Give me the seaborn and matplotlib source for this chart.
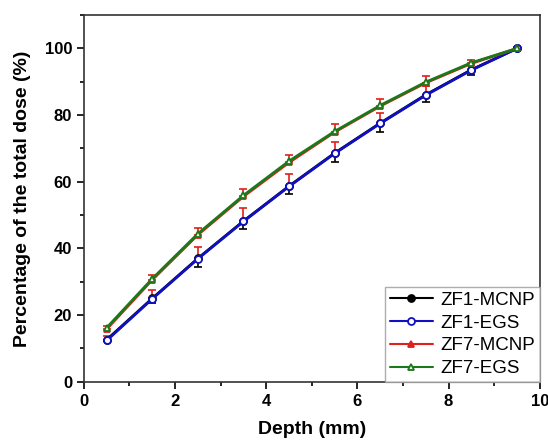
import matplotlib
matplotlib.use("Agg")
import matplotlib.pyplot as plt
import seaborn as sns
import pandas as pd
from matplotlib.ticker import MultipleLocator

# Data
depth = [0.5, 1.5, 2.5, 3.5, 4.5, 5.5, 6.5, 7.5, 8.5, 9.5]
zf1_mcnp = [12.6, 25.0, 37.0, 48.2, 58.7, 68.6, 77.6, 86.1, 93.6, 100.0]
zf1_egs = [12.4, 24.9, 36.9, 48.1, 58.6, 68.5, 77.5, 86.0, 93.5, 100.0]
zf7_mcnp = [15.8, 30.6, 44.1, 55.6, 65.8, 74.9, 82.7, 89.7, 95.5, 100.0]
zf7_egs = [16.2, 30.9, 44.4, 55.9, 66.2, 75.1, 82.9, 89.9, 95.7, 100.0]

# error bars: ZF1 lower (black), ZF1 upper (red), ZF7 upper (red)
zf1_err_low = [0.5, 1.5, 2.7, 2.5, 2.5, 2.8, 2.7, 2.3, 1.5, 0.5]
zf1_err_up = [1.0, 2.5, 3.5, 3.8, 3.5, 3.3, 2.9, 2.5, 1.5, 0.5]
zf7_err_up = [1.0, 1.3, 2.0, 2.2, 2.3, 2.4, 2.2, 2.0, 1.0, 0.5]

sns.set_style("ticks")
plt.rcParams["font.family"] = ["Liberation Sans", "DejaVu Sans"]
plt.rcParams["text.color"] = "black"
plt.rcParams["axes.labelcolor"] = "black"
plt.rcParams["xtick.color"] = "black"
plt.rcParams["ytick.color"] = "black"

fig = plt.figure(figsize=(5.48, 4.44), dpi=100)
ax = fig.add_axes([0.153, 0.14, 0.832, 0.826])

zeros = [0] * len(depth)
ax.errorbar(depth, zf1_mcnp, yerr=[zf1_err_low, zeros], fmt="none",
            ecolor="black", elinewidth=1.2, capsize=3, capthick=1.2, zorder=2)
ax.errorbar(depth, zf1_mcnp, yerr=[zeros, zf1_err_up], fmt="none",
            ecolor="#e0201b", elinewidth=1.2, capsize=3, capthick=1.2, zorder=2)
ax.errorbar(depth, zf7_mcnp, yerr=[zeros, zf7_err_up], fmt="none",
            ecolor="#e0201b", elinewidth=1.2, capsize=3, capthick=1.2, zorder=2)

series = [
    ("ZF1-MCNP", zf1_mcnp, "black", "o", "black"),
    ("ZF1-EGS", zf1_egs, "#1010c0", "o", "white"),
    ("ZF7-MCNP", zf7_mcnp, "#e0201b", "^", "#e0201b"),
    ("ZF7-EGS", zf7_egs, "#1a7a1a", "^", "white"),
]
for name, vals, col, mk, fc in series:
    df = pd.DataFrame({"depth": depth, "dose": vals})
    sns.lineplot(data=df, x="depth", y="dose", ax=ax, color=col, linewidth=2,
                 marker=mk, markersize=5, markerfacecolor=fc,
                 markeredgecolor=col, markeredgewidth=1.3, label=name, zorder=3)

ax.set_xlim(0, 10)
ax.set_ylim(0, 110)
ax.xaxis.set_major_locator(MultipleLocator(2))
ax.xaxis.set_minor_locator(MultipleLocator(1))
ax.yaxis.set_major_locator(MultipleLocator(20))
ax.yaxis.set_minor_locator(MultipleLocator(10))
ax.tick_params(which="major", direction="out", length=5, width=1.2,
               labelsize=12)
ax.tick_params(which="minor", direction="out", length=3, width=1.2)
for lbl in ax.get_xticklabels() + ax.get_yticklabels():
    lbl.set_fontweight("bold")
for sp in ax.spines.values():
    sp.set_linewidth(1.2)
    sp.set_color("#333333")
    sp.set_visible(True)

ax.set_xlabel("Depth (mm)", fontsize=14, fontweight="bold", labelpad=9)
ax.set_ylabel("Percentage of the total dose (%)", fontsize=14,
              fontweight="bold", labelpad=10)

leg = ax.legend(loc="lower right", fontsize=13.5, frameon=True, fancybox=False,
                handlelength=2.3, borderaxespad=0, borderpad=0.25,
                labelspacing=0.3, handletextpad=0.4)
leg.get_frame().set_edgecolor("#999999")
leg.get_frame().set_linewidth(1.0)
for h in leg.get_lines():
    h.set_linewidth(1.5)
    h.set_markersize(5)

fig.savefig("out.png", dpi=100)
